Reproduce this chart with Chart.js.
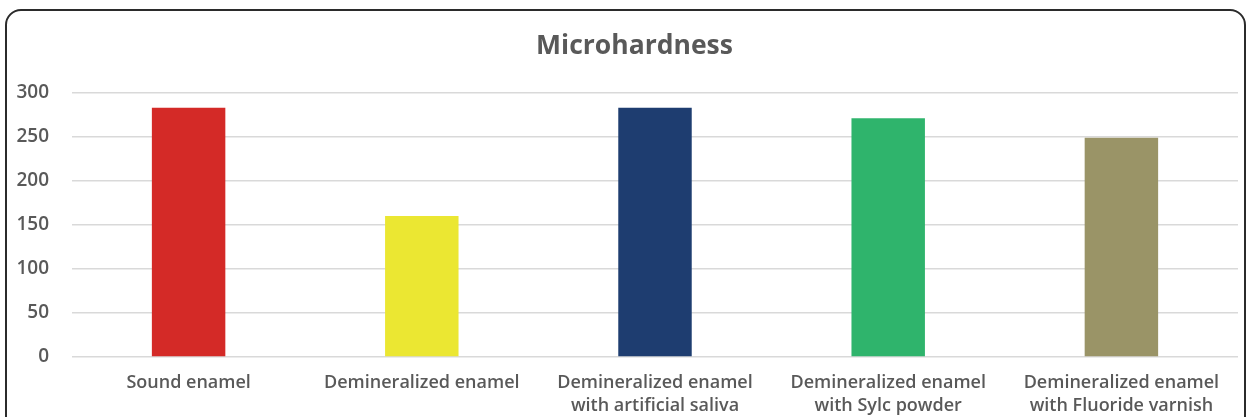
<!DOCTYPE html>
<html>
<head>
<meta charset="utf-8">
<script src="https://cdn.jsdelivr.net/npm/chart.js@4.4.0/dist/chart.umd.min.js"></script>
<style>
  html, body { margin: 0; padding: 0; background: #fff; overflow: hidden; }
  #wrap { position: relative; width: 1251px; height: 417px; }
  #frame {
    position: absolute; left: 5px; top: 9px; width: 1237px; height: 440px;
    border: 2px solid #2b2b2b; border-radius: 16px; pointer-events: none;
  }
  canvas { position: absolute; left: 0; top: 0; }
</style>
</head>
<body>
<div id="wrap">
  <canvas id="myChart" width="1251" height="417"></canvas>
  <div id="frame"></div>
</div>
<script>
var categories = [
  "Sound enamel",
  "Demineralized enamel",
  ["Demineralized enamel", "with artificial saliva"],
  ["Demineralized enamel", "with Sylc powder"],
  ["Demineralized enamel", "with Fluoride varnish"]
];
var microhardness = [283, 160, 283, 271, 249];
var barColors = ["#d42a27", "#ebe732", "#1e3d70", "#2fb46c", "#9a9467"];
var yTicks = [0, 50, 100, 150, 200, 250, 300];

var textColor = "#595959";
var fontFamily = "'Open Sans', 'Noto Sans', sans-serif";

// the title in the original sits a bit right of the canvas centre
var shiftTitle = {
  id: "shiftTitle",
  afterLayout: function (chart) {
    if (chart.titleBlock) {
      chart.titleBlock.left = 31;
    }
  }
};

var ctx = document.getElementById("myChart").getContext("2d");
var chart = new Chart(ctx, {
  type: "bar",
  data: {
    labels: categories,
    datasets: [
      {
        label: "Microhardness",
        data: microhardness,
        backgroundColor: barColors,
        borderWidth: 0,
        categoryPercentage: 1,
        barPercentage: 0.315
      }
    ]
  },
  options: {
    responsive: false,
    animation: false,
    layout: { padding: { left: 0, right: 13, top: 0, bottom: 0 } },
    plugins: {
      legend: { display: false },
      tooltip: { enabled: false },
      title: {
        display: true,
        text: "Microhardness",
        color: textColor,
        font: { family: fontFamily, size: 26.5, weight: "bold", lineHeight: 1.2 },
        padding: { top: 31, bottom: 30 }
      }
    },
    scales: {
      x: {
        afterFit: function (scale) { scale.height = 60; },
        grid: { display: false, drawTicks: false },
        border: { display: false },
        ticks: {
          color: textColor,
          padding: 14,
          maxRotation: 0,
          autoSkip: false,
          font: { family: fontFamily, size: 18, weight: "600", lineHeight: 1.28 }
        }
      },
      y: {
        min: 0,
        max: 300,
        afterBuildTicks: function (scale) {
          scale.ticks = yTicks.map(function (v) { return { value: v }; });
        },
        afterFit: function (scale) { scale.width = 72; },
        grid: { color: "#d9d9d9", lineWidth: 1.5, drawTicks: false },
        border: { display: false },
        ticks: {
          color: textColor,
          padding: 23,
          font: { family: fontFamily, size: 19, weight: "600" }
        }
      }
    }
  },
  plugins: [shiftTitle]
});
</script>
</body>
</html>
